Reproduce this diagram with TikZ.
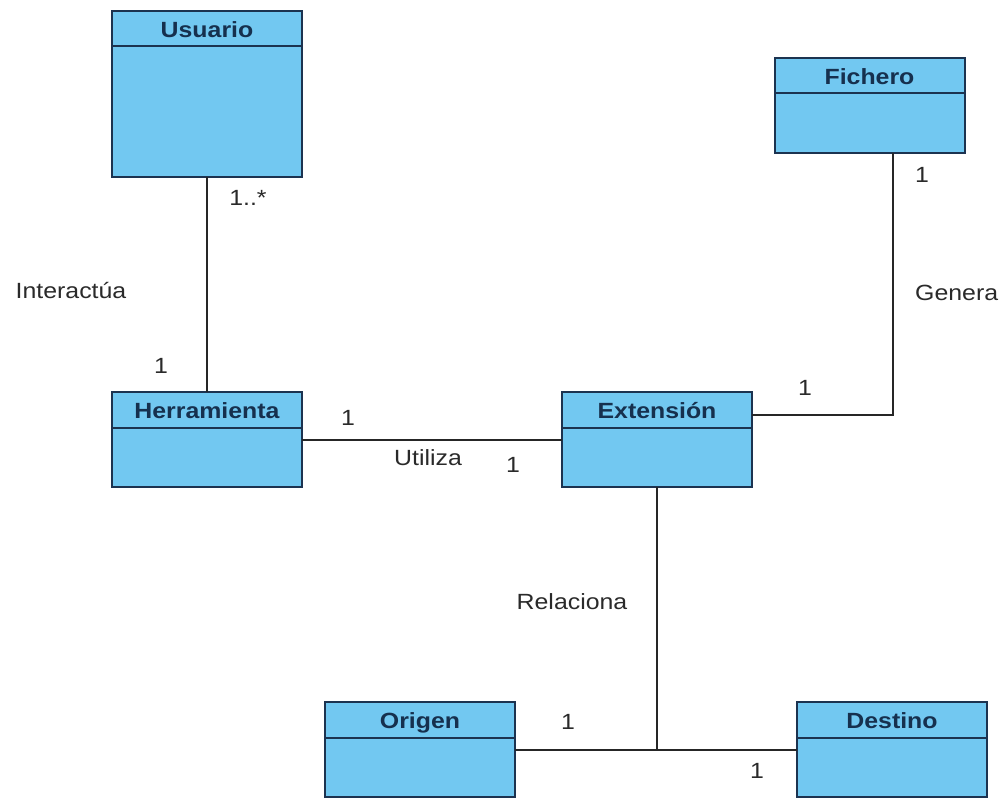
\documentclass[tikz,border=0pt]{standalone}
\usepackage{fontspec}
\setmainfont{Liberation Sans}[FakeStretch=1.13]
\definecolor{clsfill}{HTML}{72C8F1}
\definecolor{clsborder}{HTML}{1C3350}
\definecolor{titlecol}{HTML}{16304E}
\definecolor{labelcol}{HTML}{2A2A2A}
\tikzset{
  clsbox/.style={draw=clsborder, fill=clsfill, line width=2pt, minimum width=190pt, inner sep=0pt, outer sep=0pt},
  clsline/.style={draw=clsborder, line width=2pt},
  clstitle/.style={font=\fontsize{22}{26}\selectfont\bfseries, text=titlecol, inner sep=0pt, anchor=base},
  lbl/.style={font=\fontsize{22}{26}\selectfont, text=labelcol, inner sep=0pt, anchor=base},
  conn/.style={draw=black!85, line width=1.8pt}
}
% name, title, center x, top, bottom, header line y
\newcommand\umlclass[6]{%
  \node[clsbox, minimum height={#5-#4}] (#1) at (#3,{(#4+#5)/2}) {};
  \draw[clsline] (#1.west |- 0,#6) -- (#1.east |- 0,#6);
  \node[clstitle] (#1-t) at (#3,{#4+26.5}) {#2};
}
\begin{document}
\begin{tikzpicture}[x=1pt,y=-1pt]
\useasboundingbox[fill=white] (0,0) rectangle (1005,798);
\umlclass{usuario}{Usuario}{207}{11}{177}{46}
\umlclass{fichero}{Fichero}{869.5}{58}{153}{93}
\umlclass{herr}{Herramienta}{207}{392}{487}{428}
\umlclass{ext}{Extensión}{657}{392}{487}{428}
\umlclass{origen}{Origen}{420}{702}{797}{738}
\umlclass{destino}{Destino}{892}{702}{797}{738}

% connectors
\draw[conn] (usuario.south) -- (herr.north);
\draw[conn] ([yshift=-0.5pt]herr.east) -- ([yshift=-0.5pt]ext.west);
\draw[conn] ([yshift=24.5pt]ext.east) -| ([xshift=23.5pt]fichero.south);
\coordinate (junc) at ([yshift=-0.5pt]ext.south |- origen.east);
\draw[conn] (ext.south) -- (junc);
\draw[conn] ([yshift=-0.5pt]origen.east) -- ([yshift=-0.5pt]destino.west);

% labels
\node[lbl] (l1) at (248,205) {1..*};
\node[lbl] (l2) at (71,298) {Interactúa};
\node[lbl] (l3) at (161,373) {1};
\node[lbl] (l4) at (348,425) {1};
\node[lbl] (l5) at (428,465) {Utiliza};
\node[lbl] (l6) at (513,472) {1};
\node[lbl] (l7) at (922,182) {1};
\node[lbl, anchor=base west] (l8) at (915,300) {Genera};
\node[lbl] (l9) at (805,395) {1};
\node[lbl] (l10) at (572,609) {Relaciona};
\node[lbl] (l11) at (568,729) {1};
\node[lbl] (l12) at (757,778) {1};
\end{tikzpicture}
\end{document}
